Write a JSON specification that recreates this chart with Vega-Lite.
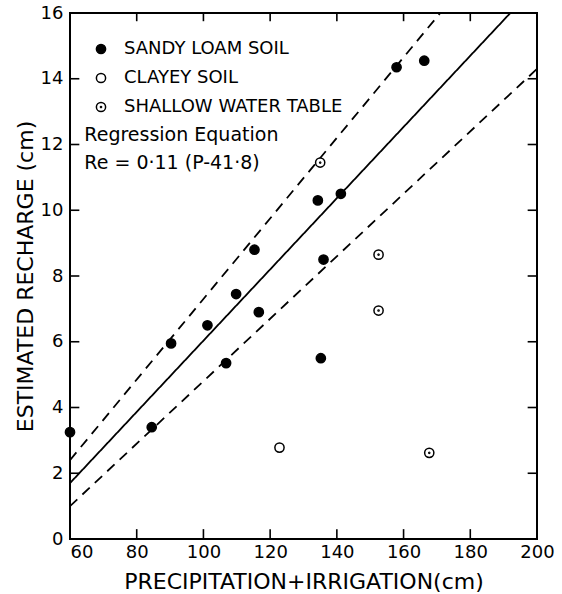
{
  "$schema": "https://vega.github.io/schema/vega-lite/v6.json",
  "width": 467,
  "height": 526,
  "autosize": {"type": "none"},
  "padding": {"left": 70, "top": 13, "right": 25, "bottom": 55},
  "background": "white",
  "config": {
    "font": "DejaVu Sans",
    "view": {"stroke": "black", "strokeWidth": 2},
    "axis": {
      "grid": false,
      "domain": false,
      "ticks": false,
      "tickSize": 0,
      "labelColor": "black",
      "labelFontSize": 18,
      "labelFont": "DejaVu Sans",
      "titleColor": "black",
      "titleFontSize": 22,
      "titleFontWeight": "normal",
      "titleFont": "DejaVu Sans"
    },
    "legend": {
      "labelLimit": 400
    }
  },
  "datasets": {
    "points": [
      {"P": 60, "Re": 3.25, "type": "SANDY LOAM SOIL"},
      {"P": 84.5, "Re": 3.4, "type": "SANDY LOAM SOIL"},
      {"P": 90.3, "Re": 5.95, "type": "SANDY LOAM SOIL"},
      {"P": 101.2, "Re": 6.5, "type": "SANDY LOAM SOIL"},
      {"P": 109.8, "Re": 7.45, "type": "SANDY LOAM SOIL"},
      {"P": 106.8, "Re": 5.35, "type": "SANDY LOAM SOIL"},
      {"P": 116.6, "Re": 6.9, "type": "SANDY LOAM SOIL"},
      {"P": 115.3, "Re": 8.8, "type": "SANDY LOAM SOIL"},
      {"P": 135.2, "Re": 5.5, "type": "SANDY LOAM SOIL"},
      {"P": 136, "Re": 8.5, "type": "SANDY LOAM SOIL"},
      {"P": 134.3, "Re": 10.3, "type": "SANDY LOAM SOIL"},
      {"P": 141.2, "Re": 10.5, "type": "SANDY LOAM SOIL"},
      {"P": 157.9, "Re": 14.35, "type": "SANDY LOAM SOIL"},
      {"P": 166.2, "Re": 14.55, "type": "SANDY LOAM SOIL"},
      {"P": 122.8, "Re": 2.78, "type": "CLAYEY SOIL"},
      {"P": 135, "Re": 11.45, "type": "SHALLOW WATER TABLE"},
      {"P": 152.5, "Re": 8.65, "type": "SHALLOW WATER TABLE"},
      {"P": 152.5, "Re": 6.95, "type": "SHALLOW WATER TABLE"},
      {"P": 167.7, "Re": 2.62, "type": "SHALLOW WATER TABLE"}
    ],
    "lines": [
      {"line": "fit", "P": 60, "Re": 1.7},
      {"line": "fit", "P": 192, "Re": 16},
      {"line": "upper", "P": 60, "Re": 2.4},
      {"line": "upper", "P": 171, "Re": 16},
      {"line": "lower", "P": 60, "Re": 1.0},
      {"line": "lower", "P": 200, "Re": 14.3}
    ],
    "xticks": [{"v": 80}, {"v": 100}, {"v": 120}, {"v": 140}, {"v": 160}, {"v": 180}],
    "yticks": [{"v": 2}, {"v": 4}, {"v": 6}, {"v": 8}, {"v": 10}, {"v": 12}, {"v": 14}],
    "notes": [
      {"note": "x"}
    ]
  },
  "layer": [
    {
      "data": {"name": "lines"},
      "mark": {"type": "line", "color": "black", "strokeWidth": 1.8, "clip": true},
      "encoding": {
        "x": {
          "field": "P", "type": "quantitative",
          "scale": {"domain": [60, 200], "nice": false, "zero": false},
          "axis": {
            "orient": "bottom", "values": [60, 80, 100, 120, 140, 160, 180, 200],
            "labelPadding": 4,
            "labelAlign": {"condition": {"test": "datum.value == 60", "value": "left"}, "value": "center"},
            "title": "PRECIPITATION+IRRIGATION(cm)", "titlePadding": 10
          }
        },
        "y": {
          "field": "Re", "type": "quantitative",
          "scale": {"domain": [0, 16], "nice": false},
          "axis": {"orient": "left", "values": [0, 2, 4, 6, 8, 10, 12, 14, 16], "labelPadding": 7, "title": "ESTIMATED RECHARGE (cm)", "titlePadding": 3}
        },
        "detail": {"field": "line"},
        "strokeDash": {
          "field": "line", "type": "nominal",
          "scale": {"domain": ["fit", "upper", "lower"], "range": [[1, 0], [10, 7], [10, 7]]},
          "legend": null
        }
      }
    },
    {
      "data": {"name": "xticks"},
      "mark": {"type": "rule", "color": "black", "strokeWidth": 1.6, "opacity": 1},
      "encoding": {
        "x": {"field": "v", "type": "quantitative", "axis": null},
        "y": {"datum": 0, "type": "quantitative", "axis": null},
        "y2": {"datum": 0.3}
      }
    },
    {
      "data": {"name": "xticks"},
      "mark": {"type": "rule", "color": "black", "strokeWidth": 1.6, "opacity": 1},
      "encoding": {
        "x": {"field": "v", "type": "quantitative", "axis": null},
        "y": {"datum": 15.75, "type": "quantitative", "axis": null},
        "y2": {"datum": 16}
      }
    },
    {
      "data": {"name": "yticks"},
      "mark": {"type": "rule", "color": "black", "strokeWidth": 1.6, "opacity": 1},
      "encoding": {
        "y": {"field": "v", "type": "quantitative", "axis": null},
        "x": {"datum": 60, "type": "quantitative", "axis": null},
        "x2": {"datum": 62.8}
      }
    },
    {
      "data": {"name": "yticks"},
      "mark": {"type": "rule", "color": "black", "strokeWidth": 1.6, "opacity": 1},
      "encoding": {
        "y": {"field": "v", "type": "quantitative", "axis": null},
        "x": {"datum": 197.2, "type": "quantitative", "axis": null},
        "x2": {"datum": 200}
      }
    },
    {
      "data": {"name": "points"},
      "mark": {"type": "point", "strokeWidth": 1.5, "opacity": 1, "size": 85, "clip": false},
      "encoding": {
        "x": {"field": "P", "type": "quantitative", "axis": null},
        "y": {"field": "Re", "type": "quantitative", "axis": null},
        "shape": {
          "field": "type", "type": "nominal",
          "scale": {
            "domain": ["SANDY LOAM SOIL", "CLAYEY SOIL", "SHALLOW WATER TABLE"],
            "range": ["circle", "circle", "M-1,0A1,1,0,1,1,1,0A1,1,0,1,1,-1,0Z M-0.12,0A0.12,0.12,0,1,1,0.12,0A0.12,0.12,0,1,1,-0.12,0Z"]
          },
          "legend": {
            "orient": "none", "legendX": 22, "legendY": 27, "title": null,
            "labelFontSize": 18, "labelColor": "black", "labelFont": "DejaVu Sans",
            "rowPadding": 11, "symbolSize": 85, "labelOffset": 14,
            "symbolStrokeWidth": 1.5
          }
        },
        "fill": {
          "field": "type", "type": "nominal",
          "scale": {
            "domain": ["SANDY LOAM SOIL", "CLAYEY SOIL", "SHALLOW WATER TABLE"],
            "range": ["black", "white", "white"]
          },
          "legend": {
            "orient": "none", "legendX": 22, "legendY": 27, "title": null,
            "labelFontSize": 18, "labelColor": "black", "labelFont": "DejaVu Sans",
            "rowPadding": 11, "symbolSize": 85, "labelOffset": 14,
            "symbolStrokeWidth": 1.5
          }
        },
        "stroke": {
          "field": "type", "type": "nominal",
          "scale": {
            "domain": ["SANDY LOAM SOIL", "CLAYEY SOIL", "SHALLOW WATER TABLE"],
            "range": ["black", "black", "black"]
          },
          "legend": {
            "orient": "none", "legendX": 22, "legendY": 27, "title": null,
            "labelFontSize": 18, "labelColor": "black", "labelFont": "DejaVu Sans",
            "rowPadding": 11, "symbolSize": 85, "labelOffset": 14,
            "symbolStrokeWidth": 1.5
          }
        }
      }
    },
    {
      "data": {"name": "notes"},
      "mark": {"type": "text", "align": "left", "baseline": "middle", "fontSize": 19, "color": "black", "font": "DejaVu Sans"},
      "encoding": {
        "x": {"datum": 64.3, "type": "quantitative", "axis": null},
        "y": {"datum": 12.3, "type": "quantitative", "axis": null},
        "text": {"value": "Regression Equation"}
      }
    },
    {
      "data": {"name": "notes"},
      "mark": {"type": "text", "align": "left", "baseline": "middle", "fontSize": 19, "color": "black", "font": "DejaVu Sans"},
      "encoding": {
        "x": {"datum": 64.3, "type": "quantitative", "axis": null},
        "y": {"datum": 11.45, "type": "quantitative", "axis": null},
        "text": {"value": "Re = 0·11 (P-41·8)"}
      }
    }
  ],
  "resolve": {"axis": {"x": "independent", "y": "independent"}}
}
